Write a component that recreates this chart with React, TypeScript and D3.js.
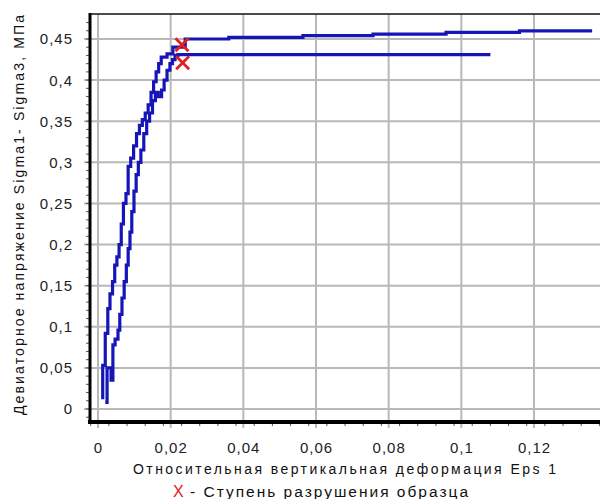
import * as d3 from "d3";

// curve 1 (upper plateau ~0.46)
const eps1A = [0.0013, 0.0013, 0.002, 0.0027, 0.0033, 0.004, 0.0046, 0.0052, 0.0058, 0.0064, 0.007, 0.0077, 0.0083, 0.009, 0.0098, 0.0106, 0.0114, 0.0122, 0.013, 0.0138, 0.0146, 0.0153, 0.016, 0.0167, 0.0174, 0.019, 0.0206, 0.024, 0.036, 0.0564, 0.0757, 0.0958, 0.116, 0.136];
const sigA = [0.012, 0.053, 0.092, 0.122, 0.14, 0.155, 0.175, 0.185, 0.2, 0.225, 0.25, 0.262, 0.295, 0.305, 0.32, 0.335, 0.345, 0.352, 0.36, 0.37, 0.385, 0.398, 0.41, 0.42, 0.428, 0.432, 0.44, 0.45, 0.452, 0.454, 0.456, 0.458, 0.46, 0.46];

// curve 2 (lower plateau ~0.43)
const eps1B = [0.002, 0.0025, 0.0036, 0.0041, 0.0047, 0.0055, 0.006, 0.0066, 0.0072, 0.0078, 0.0083, 0.0088, 0.0093, 0.0099, 0.0105, 0.0111, 0.0118, 0.0126, 0.0134, 0.0142, 0.015, 0.0158, 0.0166, 0.0175, 0.0182, 0.019, 0.0198, 0.0205, 0.0212, 0.022, 0.108];
const sigB = [0.008, 0.05, 0.035, 0.078, 0.085, 0.096, 0.115, 0.135, 0.155, 0.175, 0.195, 0.215, 0.24, 0.265, 0.285, 0.3, 0.315, 0.335, 0.35, 0.36, 0.375, 0.385, 0.38, 0.388, 0.4, 0.412, 0.42, 0.425, 0.43, 0.431, 0.431];

// failure steps (red crosses)
const failEps = [0.0231, 0.0233];
const failSig = [0.443, 0.421];

const xTicks = [0, 0.02, 0.04, 0.06, 0.08, 0.1, 0.12];
const yTicks = [0, 0.05, 0.1, 0.15, 0.2, 0.25, 0.3, 0.35, 0.4, 0.45];

const fmt = (v: number) => String(v).replace(".", ",");

export default function App() {
  const width = 600;
  const height = 499;
  const axisX = 90;
  const axisY = 422;
  const topY = 14;

  const x = d3.scaleLinear().domain([0, 0.12]).range([98, 534]);
  const y = d3.scaleLinear().domain([0, 0.45]).range([409, 39]);

  const line = d3
    .line<[number, number]>()
    .x((d) => x(d[0]))
    .y((d) => y(d[1]))
    .curve(d3.curveStepAfter);

  const ptsA = eps1A.map((e, i) => [e, sigA[i]] as [number, number]);
  const ptsB = eps1B.map((e, i) => [e, sigB[i]] as [number, number]);

  const minorY = d3.range(-0.01, 0.48, 0.01);
  const minorX = d3.range(-0.002, 0.14, 0.005);
  const font = "'Liberation Sans', Arial, sans-serif";

  return (
    <svg
      width={width}
      height={height}
      style={{ position: "absolute", left: 0, top: 0, background: "#fff" }}
      fontFamily={font}
    >
      <rect width={width} height={height} fill="#fff" />
      {/* grid */}
      <g stroke="#b8b8b8" strokeWidth={2}>
        {xTicks.map((t) => (
          <line key={"gx" + t} x1={x(t)} x2={x(t)} y1={topY} y2={axisY + 6} />
        ))}
        {yTicks.map((t) => (
          <line key={"gy" + t} x1={axisX - 6} x2={width} y1={y(t)} y2={y(t)} />
        ))}
      </g>
      {/* minor ticks */}
      <g stroke="#555" strokeWidth={1}>
        {minorY.map((t) => (
          <line key={"my" + t} x1={axisX - 4} x2={axisX} y1={y(t)} y2={y(t)} />
        ))}
        {minorX.map((t) => (
          <line key={"mx" + t} x1={x(t)} x2={x(t)} y1={axisY} y2={axisY + 4} />
        ))}
      </g>
      {/* frame */}
      <line x1={axisX} x2={width} y1={topY} y2={topY} stroke="#111" strokeWidth={1.5} />
      <line x1={axisX} x2={axisX} y1={topY - 1} y2={axisY + 2} stroke="#000" strokeWidth={3} />
      <line x1={axisX - 2} x2={width} y1={axisY} y2={axisY} stroke="#000" strokeWidth={4} />

      {/* curves */}
      <g fill="none" stroke="#1616b8" strokeWidth={3.2} strokeLinejoin="miter">
        <path d={line(ptsB) ?? ""} />
        <path d={line(ptsA) ?? ""} />
      </g>

      {/* failure markers */}
      <g stroke="#e02020" strokeWidth={2.8}>
        {failEps.map((e, i) => {
          const cx = x(e);
          const cy = y(failSig[i]);
          const r = 6.5;
          return (
            <g key={"f" + i}>
              <line x1={cx - r} x2={cx + r} y1={cy - r} y2={cy + r} />
              <line x1={cx - r} x2={cx + r} y1={cy + r} y2={cy - r} />
            </g>
          );
        })}
      </g>

      {/* tick labels */}
      <g fontSize={15} fill="#222" letterSpacing={1}>
        {yTicks.map((t) => (
          <text key={"ly" + t} x={73} y={y(t)} dy="0.36em" textAnchor="end">
            {fmt(t)}
          </text>
        ))}
        {xTicks.map((t) => (
          <text key={"lx" + t} x={x(t) + 0.5} y={453} textAnchor="middle">
            {fmt(t)}
          </text>
        ))}
      </g>

      {/* axis titles */}
      <text
        x={133}
        y={474}
        fontSize={14}
        fill="#111"
        textLength={423}
        lengthAdjust="spacing"
      >
        Относительная вертикальная деформация Eps 1
      </text>
      <text
        transform={`translate(24,415) rotate(-90)`}
        fontSize={14}
        fill="#111"
        textLength={400}
        lengthAdjust="spacing"
      >
        Девиаторное напряжение Sigma1- Sigma3, МПа
      </text>

      {/* legend */}
      <text x={173} y={497} fontSize={16} fill="#e02020">
        X
      </text>
      <text
        x={190}
        y={497}
        fontSize={15.5}
        fill="#111"
        textLength={278}
        lengthAdjust="spacing"
      >
        - Ступень разрушения образца
      </text>
    </svg>
  );
}
